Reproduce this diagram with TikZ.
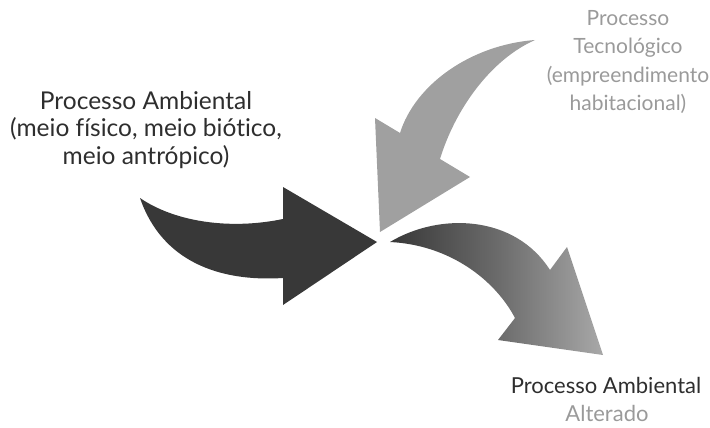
\documentclass[tikz,border=0pt]{standalone}
\usepackage{fontspec}
\setmainfont{Lato}[Ligatures=NoCommon]
\definecolor{darkarrow}{HTML}{383838}
\definecolor{grayarrow}{HTML}{A0A0A0}
\definecolor{lightarrow}{HTML}{A8A8A8}
\definecolor{darktext}{HTML}{2E2E2E}
\definecolor{graytext}{HTML}{9A9A9A}
\begin{document}
\begin{tikzpicture}[x=1pt,y=-1pt,
  lbl/.style={align=center,inner sep=0pt}]
\useasboundingbox (0,0) rectangle (710,428);
% left dark arrow
\fill[darkarrow] (140,198) .. controls (175,222) and (230,230) .. (283,219)
  -- (283,187) -- (377,242) -- (283,305) -- (283,278)
  .. controls (220,282) and (162,262) .. (140,198) -- cycle;
% top gray arrow
\fill[grayarrow] (535,40) .. controls (470,45) and (415,85) .. (400,133)
  -- (375,118) -- (380,232) -- (470,177) -- (440,159)
  .. controls (455,110) and (490,60) .. (535,40) -- cycle;
% bottom right gradient arrow
\shade[left color=darkarrow, right color=lightarrow, middle color=darkarrow!55!lightarrow]
  (390,242) .. controls (440,212) and (515,215) .. (550,270)
  -- (567,247) -- (603,355) -- (498,340) -- (515,318)
  .. controls (495,280) and (450,245) .. (390,242) -- cycle;
% labels
\node[lbl,text=darktext,font=\fontsize{24.5}{27.5}\selectfont] (amb) at (146,130) {Processo Ambiental\\(meio físico, meio biótico,\\meio antrópico)};
\node[lbl,text=graytext,font=\fontsize{21}{28.5}\selectfont] (tec) at (628,62) {Processo\\Tecnológico\\(empreendimento\\habitacional)};
\node[lbl,text=darktext,font=\fontsize{22}{27.5}\selectfont] (alt1) at (606,385) {Processo Ambiental};
\node[lbl,text=graytext,font=\fontsize{22}{27.5}\selectfont] (alt2) at (607,413) {Alterado};
\end{tikzpicture}
\end{document}
